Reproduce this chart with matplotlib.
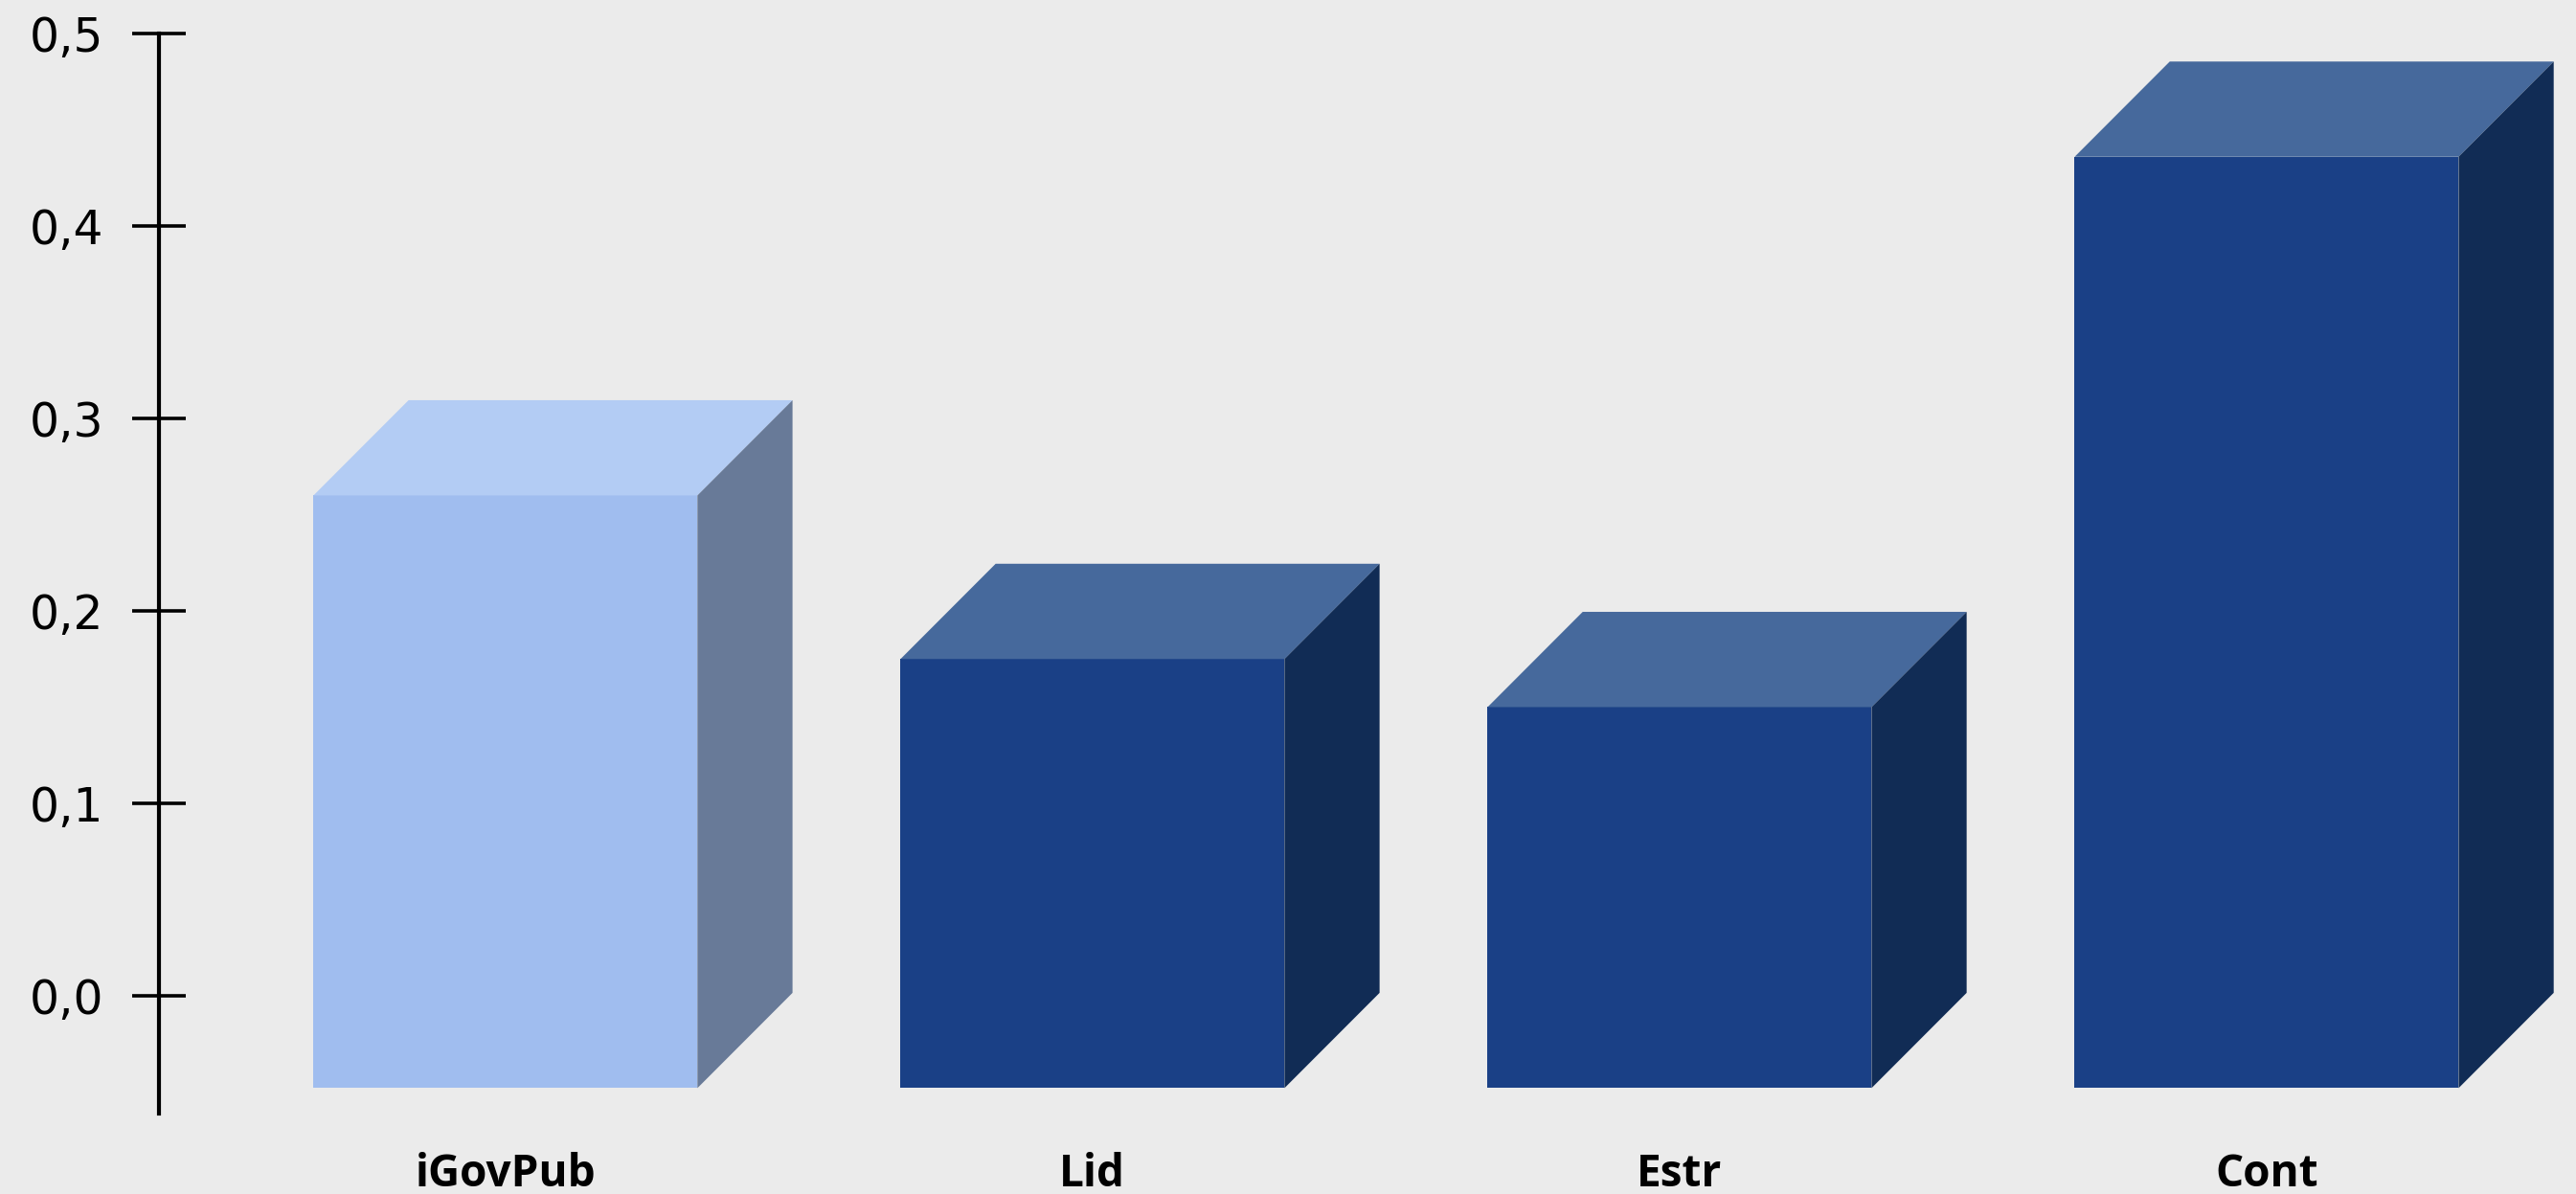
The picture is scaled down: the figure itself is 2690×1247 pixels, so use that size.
import matplotlib
matplotlib.use("Agg")
import matplotlib.pyplot as plt
from matplotlib.patches import Polygon

categories = ["iGovPub", "Lid", "Estr", "Cont"]
values = [0.260, 0.175, 0.150, 0.436]
base_value = -0.048
ytick_values = [0.0, 0.1, 0.2, 0.3, 0.4, 0.5]
ytick_labels = ["0,0", "0,1", "0,2", "0,3", "0,4", "0,5"]

front_colors = ["#A0BDEF", "#1A4086", "#1A4086", "#1A4086"]
top_colors = ["#B3CCF4", "#46699C", "#46699C", "#46699C"]
side_colors = ["#687A98", "#112C55", "#112C55", "#112C55"]

plt.rcParams['font.family'] = ['Open Sans', 'DejaVu Sans']

fig = plt.figure(figsize=(26.9, 12.47), dpi=100)
fig.patch.set_facecolor("#EBEBEB")
ax = fig.add_axes([0, 0.0613, 1, 0.9347])
ax.set_facecolor("#EBEBEB")

width = 0.654
dx = 0.162
dy = 0.0495
xs = list(range(len(categories)))

ax.bar(xs, [v - base_value for v in values], bottom=base_value, width=width,
       color=front_colors, edgecolor='none', zorder=2)
for x, v, tc, sc in zip(xs, values, top_colors, side_colors):
    l, r = x - width / 2, x + width / 2
    top = Polygon([(l, v), (r, v), (r + dx, v + dy), (l + dx, v + dy)],
                  closed=True, facecolor=tc, edgecolor='none', zorder=2)
    side = Polygon([(r, base_value), (r + dx, base_value + dy), (r + dx, v + dy), (r, v)],
                   closed=True, facecolor=sc, edgecolor='none', zorder=2)
    ax.add_patch(top)
    ax.add_patch(side)

ax.set_xlim(-0.861, 3.527)
ax.set_ylim(-0.065, 0.515)

for s in ['top', 'right', 'bottom']:
    ax.spines[s].set_visible(False)
ax.spines['left'].set_position(('data', -0.59))
ax.spines['left'].set_bounds(-0.061, 0.5)
ax.spines['left'].set_linewidth(3)
ax.spines['left'].set_color('black')

ax.set_yticks(ytick_values)
ax.set_yticklabels(ytick_labels, family='DejaVu Sans')
ax.tick_params(axis='y', direction='inout', length=41, width=2.6, colors='black',
               labelsize=35, pad=21)
ax.set_xticks(xs)
ax.set_xticklabels(categories, fontweight='bold')
ax.tick_params(axis='x', length=0, labelsize=33, pad=23)

fig.savefig("out.png", dpi=100, facecolor=fig.get_facecolor())
